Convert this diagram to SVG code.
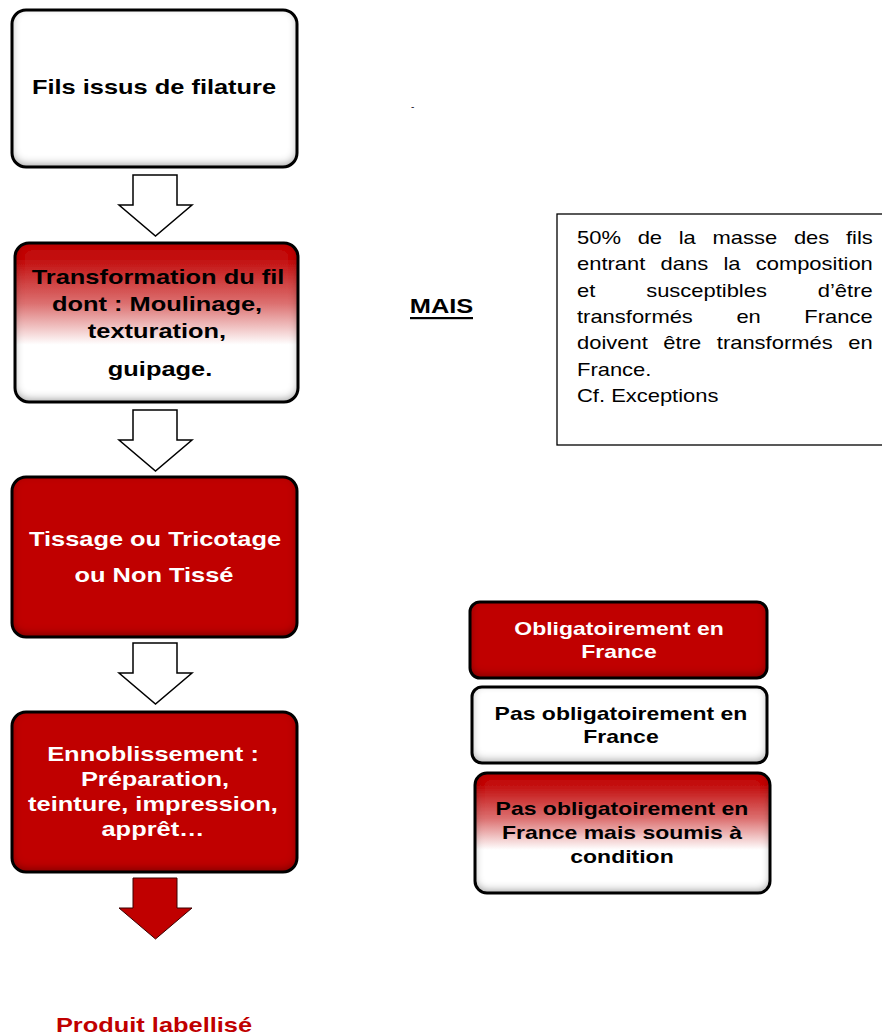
<svg xmlns="http://www.w3.org/2000/svg" width="882" height="1036" viewBox="0 0 882 1036">
<style>
  .fill { filter: url(#bevel); }
  .edge { fill: none; stroke: #000; stroke-width: 3; }
  .red { fill: #c00000; }
  .white { fill: #ffffff; }
  .grad { fill: url(#fade); }
  .b { font-family: "Liberation Sans", Arial, sans-serif; font-weight: bold; text-anchor: middle; }
  .b21 { font-size: 21px; }
  .b19 { font-size: 19px; }
  .dark { fill: #000; }
  .light { fill: #fff; }
  .r { font-family: "Liberation Sans", Arial, sans-serif; font-size: 18px; fill: #000; }
  .hollow { fill: #fff; stroke: #000; stroke-width: 1.5; stroke-linejoin: miter; }
  .solid { fill: #c00000; stroke: #3a0000; stroke-width: 1; }
</style>
<defs>
  <linearGradient id="fade" x1="0" y1="0" x2="0" y2="1">
    <stop offset="0" stop-color="#c00000"/>
    <stop offset="0.12" stop-color="#c41414"/>
    <stop offset="0.38" stop-color="#dc7070"/>
    <stop offset="0.64" stop-color="#ffffff"/>
    <stop offset="1" stop-color="#ffffff"/>
  </linearGradient>
  <filter id="bevel" x="-10%" y="-10%" width="120%" height="120%">
    <feFlood flood-color="#000" flood-opacity="0.7" result="f"/>
    <feComposite in="f" in2="SourceAlpha" operator="out" result="outside"/>
    <feGaussianBlur in="outside" stdDeviation="4" result="blur"/>
    <feOffset in="blur" dx="0" dy="-3" result="off"/>
    <feComposite in="off" in2="SourceAlpha" operator="in" result="inner"/>
    <feMerge><feMergeNode in="SourceGraphic"/><feMergeNode in="inner"/></feMerge>
  </filter>
</defs>

<g id="connectors">
  <path class="hollow" d="M133,175 H177 V205 H192 L155.5,236 L119,205 H133 Z"/>
  <path class="hollow" d="M133,410 H177 V440 H192 L155.5,471 L119,440 H133 Z"/>
  <path class="hollow" d="M133,643 H177 V673 H192 L155.5,704 L119,673 H133 Z"/>
  <path class="solid" d="M133,878 H177 V908 H192 L155.5,939 L119,908 H133 Z"/>
</g>

<g id="node-fils">
  <rect class="fill white" x="12" y="10" width="285" height="157" rx="14"/>
  <rect class="edge" x="12" y="10" width="285" height="157" rx="14"/>
  <text class="b b21 dark" transform="translate(154,94) scale(1.21,1)">Fils issus de filature</text>
</g>

<g id="node-transformation">
  <rect class="fill grad" x="15" y="243" width="283" height="159" rx="14"/>
  <rect class="edge" x="15" y="243" width="283" height="159" rx="14"/>
  <text class="b b21 dark" transform="translate(158,284) scale(1.21,1)">Transformation du fil</text>
  <text class="b b21 dark" transform="translate(157,311) scale(1.21,1)">dont : Moulinage,</text>
  <text class="b b21 dark" transform="translate(157,338) scale(1.21,1)">texturation,</text>
  <text class="b b21 dark" transform="translate(160,376) scale(1.21,1)">guipage.</text>
</g>

<g id="node-tissage">
  <rect class="fill red" x="12" y="477" width="285" height="160" rx="14"/>
  <rect class="edge" x="12" y="477" width="285" height="160" rx="14"/>
  <text class="b b21 light" transform="translate(155,546) scale(1.21,1)">Tissage ou Tricotage</text>
  <text class="b b21 light" transform="translate(154,582) scale(1.21,1)">ou Non Tissé</text>
</g>

<g id="node-ennoblissement">
  <rect class="fill red" x="12" y="712" width="285" height="160" rx="14"/>
  <rect class="edge" x="12" y="712" width="285" height="160" rx="14"/>
  <text class="b b21 light" transform="translate(153,761) scale(1.21,1)">Ennoblissement :</text>
  <text class="b b21 light" transform="translate(155,786) scale(1.21,1)">Préparation,</text>
  <text class="b b21 light" transform="translate(153,811) scale(1.21,1)">teinture, impression,</text>
  <text class="b b21 light" transform="translate(153,836) scale(1.21,1)">apprêt…</text>
</g>

<g id="node-produit">
  <text class="b b21" fill="#c00000" transform="translate(154,1032) scale(1.21,1)">Produit labellisé</text>
</g>

<g id="mark">
  <text x="411" y="110" font-family="Liberation Sans, Arial, sans-serif" font-size="10" fill="#223">-</text>
</g>

<g id="node-mais">
  <text class="b b21 dark" transform="translate(441.5,313) scale(1.21,1)">MAIS</text>
  <rect x="410" y="317" width="63" height="2.2" fill="#000"/>
</g>

<g id="node-note">
  <rect x="557" y="214" width="340" height="231" fill="#fff" stroke="#000" stroke-width="1.3"/>
  <g transform="translate(577,0) scale(1.22,1)">
    <text class="r" x="0" y="244" word-spacing="8.7">50% de la masse des fils</text>
    <text class="r" x="0" y="270" word-spacing="7.5">entrant dans la composition</text>
    <text class="r" x="0" y="297" word-spacing="36.7">et susceptibles d’être</text>
    <text class="r" x="0" y="323" word-spacing="30.7">transformés en France</text>
    <text class="r" x="0" y="349" word-spacing="7.8">doivent être transformés en</text>
    <text class="r" x="0" y="376">France.</text>
    <text class="r" x="0" y="402">Cf. Exceptions</text>
  </g>
</g>

<g id="legend-obligatoire">
  <rect class="fill red" x="470" y="602" width="297" height="76" rx="10"/>
  <rect class="edge" x="470" y="602" width="297" height="76" rx="10"/>
  <text class="b b19 light" transform="translate(619,635) scale(1.21,1)">Obligatoirement en</text>
  <text class="b b19 light" transform="translate(619,658) scale(1.21,1)">France</text>
</g>

<g id="legend-pas-obligatoire">
  <rect class="fill white" x="472" y="687" width="295" height="76" rx="10"/>
  <rect class="edge" x="472" y="687" width="295" height="76" rx="10"/>
  <text class="b b19 dark" transform="translate(621,720) scale(1.21,1)">Pas obligatoirement en</text>
  <text class="b b19 dark" transform="translate(621,743) scale(1.21,1)">France</text>
</g>

<g id="legend-condition">
  <rect class="fill grad" x="475" y="773" width="295" height="120" rx="12"/>
  <rect class="edge" x="475" y="773" width="295" height="120" rx="12"/>
  <text class="b b19 dark" transform="translate(622,815) scale(1.21,1)">Pas obligatoirement en</text>
  <text class="b b19 dark" transform="translate(622,839) scale(1.21,1)">France mais soumis à</text>
  <text class="b b19 dark" transform="translate(622,863) scale(1.21,1)">condition</text>
</g>
</svg>
